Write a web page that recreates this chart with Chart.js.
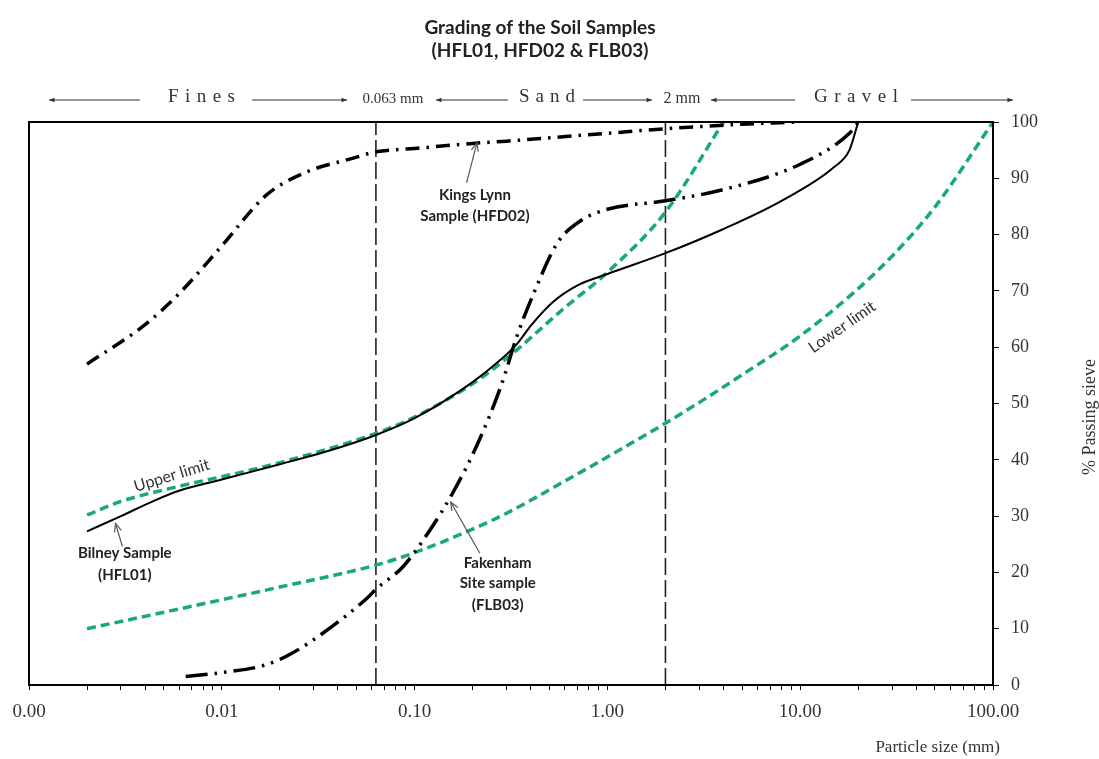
<!DOCTYPE html>
<html><head><meta charset="utf-8">
<script src="https://cdn.jsdelivr.net/npm/chart.js@4.4.1/dist/chart.umd.min.js"></script>
<style>html,body{margin:0;padding:0;background:#fff;}#wrap{width:1099px;height:759px;}</style>
</head><body><div id="wrap"><canvas id="c" width="1099" height="759"></canvas></div>
<script>
// ---- data ----
const decadeValues = [0.001, 0.01, 0.1, 1, 10, 100];
const xTickLabels = ['0.00', '0.01', '0.10', '1.00', '10.00', '100.00'];
const boundarySizes = [0.063, 2];

const bilneySize = [0.002, 0.003, 0.0045, 0.006, 0.01, 0.02, 0.04, 0.063, 0.1, 0.2, 0.28, 0.34, 0.4, 0.52, 0.7, 1, 2, 4, 8, 15, 18, 20];
const bilneyPass = [27.3, 30, 32.8, 34.5, 36.5, 39.2, 42.1, 44.4, 47.4, 53.8, 57.8, 60.6, 63.8, 68, 71, 73, 76.7, 81, 86, 92, 95, 100];

const kingsSize = [0.002, 0.004, 0.006, 0.01, 0.017, 0.027, 0.047, 0.063, 0.1, 0.2, 0.3, 1, 2, 5, 10];
const kingsPass = [57, 64, 69.5, 78, 87, 91, 93.5, 94.7, 95.3, 96.2, 96.6, 98, 98.8, 99.6, 100];

const fakenhamSize = [0.0065, 0.01, 0.017, 0.023, 0.036, 0.057, 0.063, 0.087, 0.12, 0.16, 0.21, 0.28, 0.34, 0.42, 0.55, 0.73, 1, 2, 4, 10, 18, 20];
const fakenhamPass = [1.5, 2.2, 3.6, 5.6, 10, 15.5, 17, 21, 27.5, 34.5, 42.5, 53, 62, 70, 78.5, 82.5, 84.5, 86, 88, 92.5, 98, 100];

const upperSize = [0.002, 0.003, 0.006, 0.01, 0.02, 0.063, 0.1, 0.2, 0.3, 0.6, 1, 2, 4];
const upperPass = [30.2, 32.6, 35.3, 37, 39.5, 44.7, 47.6, 53.5, 58, 67, 73.3, 84, 100];

const lowerSize = [0.002, 0.006, 0.02, 0.063, 0.1, 0.2, 0.3, 0.6, 1, 2, 3, 5, 10, 20, 30, 50, 100];
const lowerPass = [10, 13.5, 17.4, 21.3, 23.5, 27.7, 30.5, 36.2, 40.5, 46.5, 50.2, 55.1, 62, 70.4, 76.2, 84.9, 100];

// labels anchored in data space
const notes = [
  {lines: ['Kings Lynn', 'Sample (HFD02)'], x: 0.2056, y: [87.0, 83.3], from: [0.186, 89.2], to: [0.2105, 96.3]},
  {lines: ['Bilney Sample', '(HFL01)'], x: 0.00314, y: [23.4, 19.5], from: [0.00305, 24.6], to: [0.00281, 28.7]},
  {lines: ['Fakenham', 'Site sample', '(FLB03)'], x: 0.270, y: [21.7, 18.1, 14.2], from: [0.218, 23.4], to: [0.154, 32.5]}
];
const curveLabels = [
  {text: 'Upper limit', x: 0.0055, y: 37.2, angle: -17},
  {text: 'Lower limit', x: 16.5, y: 63.6, angle: -35}
];
const zoneLabels = [
  {text: 'Fines', from: 168, to: 235},
  {text: 'Sand', from: 519, to: 575},
  {text: 'Gravel', from: 814, to: 898}
];

const GREEN = '#19a87a';
const mk = (label, xs, ys, color, width, dash) => ({
  label, data: xs.map((x, i) => ({x, y: ys[i]})),
  borderColor: color, borderWidth: width, borderDash: dash,
  pointRadius: 0, showLine: true, fill: false, cubicInterpolationMode: 'monotone'
});

const datasets = [
  mk('Bilney Sample (HFL01)', bilneySize, bilneyPass, '#000', 2, []),
  mk('Kings Lynn Sample (HFD02)', kingsSize, kingsPass, '#000', 3.5, [14, 7, 2.5, 7]),
  mk('Fakenham Site sample (FLB03)', fakenhamSize, fakenhamPass, '#000', 3.5, [22, 7, 2.5, 7, 2.5, 7]),
  mk('Upper limit', upperSize, upperPass, GREEN, 3.5, [9, 5]),
  mk('Lower limit', lowerSize, lowerPass, GREEN, 3.5, [9, 5])
];
boundarySizes.forEach(b => datasets.push({
  label: 'boundary ' + b, data: [{x: b, y: 0}, {x: b, y: 100}],
  borderColor: '#222', borderWidth: 1.6, borderDash: [17, 5], pointRadius: 0, showLine: true, tension: 0
}));

function arrowHead(ctx, x1, y1, x2, y2, size, filled) {
  const a = Math.atan2(y2 - y1, x2 - x1);
  ctx.beginPath();
  ctx.moveTo(x2 - size * Math.cos(a - 0.4), y2 - size * Math.sin(a - 0.4));
  ctx.lineTo(x2, y2);
  ctx.lineTo(x2 - size * Math.cos(a + 0.4), y2 - size * Math.sin(a + 0.4));
  if (filled) { ctx.closePath(); ctx.fill(); } else ctx.stroke();
}

function spaced(ctx, text, from, to, y) {
  const chars = text.split('');
  const widths = chars.map(c => ctx.measureText(c).width);
  const total = widths.reduce((s, w) => s + w, 0);
  const gap = (to - from - total) / (chars.length - 1);
  let x = from;
  ctx.textAlign = 'left';
  chars.forEach((c, i) => { ctx.fillText(c, x, y); x += widths[i] + gap; });
}

const decor = {
  id: 'decor',
  beforeDraw(chart) {
    const ctx = chart.ctx;
    ctx.save(); ctx.fillStyle = '#fff'; ctx.fillRect(0, 0, chart.width, chart.height); ctx.restore();
  },
  afterDatasetsDraw(chart) {
    const ctx = chart.ctx, a = chart.chartArea, xs = chart.scales.x, ys = chart.scales.y;
    ctx.save();
    ctx.strokeStyle = '#000'; ctx.lineWidth = 2; ctx.setLineDash([]);
    ctx.strokeRect(a.left, a.top, a.right - a.left, a.bottom - a.top);
    // notes
    ctx.fillStyle = '#222'; ctx.font = 'bold 15px Lato'; ctx.textAlign = 'center'; ctx.textBaseline = 'middle';
    notes.forEach(n => {
      const px = xs.getPixelForValue(n.x);
      n.lines.forEach((t, i) => ctx.fillText(t, px, ys.getPixelForValue(n.y[i])));
      const x1 = xs.getPixelForValue(n.from[0]), y1 = ys.getPixelForValue(n.from[1]);
      const x2 = xs.getPixelForValue(n.to[0]), y2 = ys.getPixelForValue(n.to[1]);
      ctx.strokeStyle = '#555'; ctx.lineWidth = 1.2;
      ctx.beginPath(); ctx.moveTo(x1, y1); ctx.lineTo(x2, y2); ctx.stroke();
      arrowHead(ctx, x1, y1, x2, y2, 9, false);
    });
    ctx.font = '16px Lato'; ctx.fillStyle = '#333';
    curveLabels.forEach(c => {
      ctx.save();
      ctx.translate(xs.getPixelForValue(c.x), ys.getPixelForValue(c.y));
      ctx.rotate(c.angle * Math.PI / 180);
      ctx.fillText(c.text, 0, 0);
      ctx.restore();
    });
    ctx.restore();
  },
  afterDraw(chart) {
    const ctx = chart.ctx;
    ctx.save();
    ctx.fillStyle = '#222'; ctx.textAlign = 'center'; ctx.textBaseline = 'middle';
    ctx.font = 'bold 19px Lato';
    ctx.fillText('Grading of the Soil Samples', 540, 28);
    ctx.fillText('(HFL01, HFD02 & FLB03)', 540, 51);
    // header zones
    ctx.fillStyle = '#333'; ctx.strokeStyle = '#333'; ctx.lineWidth = 1.2;
    ctx.font = '19px "Liberation Serif"';
    zoneLabels.forEach(z => spaced(ctx, z.text, z.from, z.to, 97));
    ctx.textAlign = 'center';
    ctx.font = '15px "Liberation Serif"';
    ctx.fillText('0.063 mm', 393, 99);
    ctx.font = '16px "Liberation Serif"';
    ctx.fillText('2 mm', 682, 99);
    const arrows = [[140, 49], [252, 347], [508, 436], [583, 652], [795, 711], [911, 1013]];
    arrows.forEach(([x1, x2]) => {
      ctx.beginPath(); ctx.moveTo(x1, 100); ctx.lineTo(x2, 100); ctx.stroke();
      arrowHead(ctx, x1, 100, x2, 100, 6, true);
    });
    // axis titles
    ctx.font = '17px "Liberation Serif"'; ctx.textAlign = 'right';
    ctx.fillText('Particle size (mm)', 1000, 748);
    ctx.save(); ctx.translate(1090, 417); ctx.rotate(-Math.PI / 2);
    ctx.textAlign = 'center'; ctx.font = '18px "Liberation Serif"';
    ctx.fillText('% Passing sieve', 0, 0);
    ctx.restore();
    ctx.restore();
  }
};

new Chart(document.getElementById('c'), {
  type: 'scatter',
  data: {datasets},
  options: {
    responsive: false, animation: false, devicePixelRatio: 1,
    layout: {padding: {left: 29, top: 122, right: 0, bottom: 0}},
    plugins: {legend: {display: false}, tooltip: {enabled: false}, title: {display: false}},
    scales: {
      x: {
        type: 'logarithmic', min: 0.001, max: 100,
        afterFit(s) { s.height = 74; },
        afterBuildTicks(s) {
          const t = [];
          decadeValues.slice(0, -1).forEach(d => { for (let m = 1; m <= 9; m++) t.push({value: m * d, major: m === 1}); });
          t.push({value: 100, major: true});
          s.ticks = t;
        },
        grid: {drawOnChartArea: false, color: '#000', tickLength: 5, lineWidth: 1},
        border: {display: false},
        ticks: {
          autoSkip: false, maxRotation: 0, minRotation: 0, padding: 11, color: '#333',
          font: {family: 'Liberation Serif', size: 19},
          callback(v) {
            const i = decadeValues.findIndex(d => Math.abs(d - v) / d < 1e-6);
            return i >= 0 ? xTickLabels[i] : '';
          }
        }
      },
      y: {
        position: 'right', min: 0, max: 100,
        afterFit(s) { s.width = 106; },
        grid: {drawOnChartArea: false, color: '#000', tickLength: 6},
        border: {display: false},
        ticks: {stepSize: 10, padding: 12, color: '#333', font: {family: 'Liberation Serif', size: 18}}
      }
    }
  },
  plugins: [decor]
});
</script></body></html>
